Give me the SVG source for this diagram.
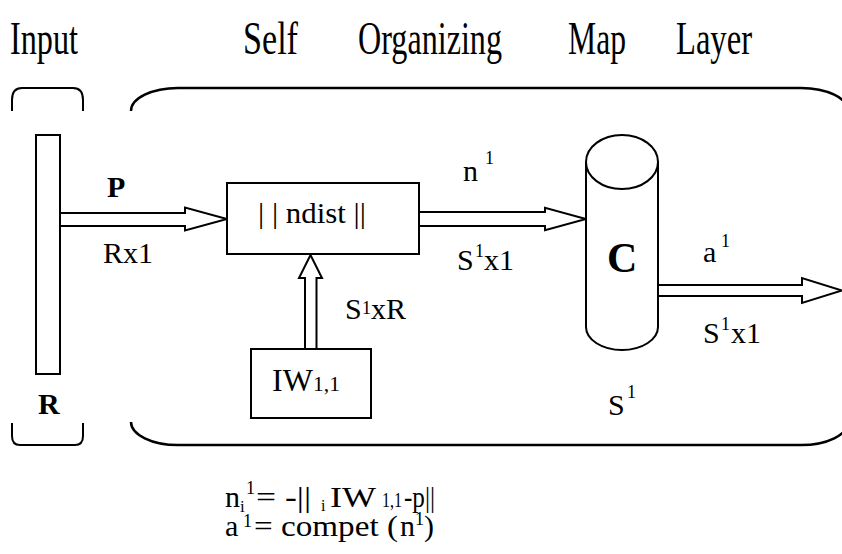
<svg xmlns="http://www.w3.org/2000/svg" width="842" height="554" viewBox="0 0 842 554">
  <style>
    .ln { fill: none; stroke: #000; stroke-width: 2; }
    .frame { fill: none; stroke: #000; stroke-width: 2.5; }
    .box { fill: #fff; stroke: #000; stroke-width: 2; }
    .arr { fill: #fff; stroke: #000; stroke-width: 2; stroke-linejoin: miter; }
    text { font-family: "Liberation Serif", "Times New Roman", serif; fill: #000; }
    .t { font-size: 30px; }
    .b { font-weight: bold; }
    .sup { font-size: 18px; }
    .title { font-size: 46px; }
  </style>

  <!-- heading -->
  <g id="heading">
    <text class="title" x="10" y="54" textLength="68" lengthAdjust="spacingAndGlyphs">Input</text>
    <text class="title" x="243" y="54" textLength="55" lengthAdjust="spacingAndGlyphs">Self</text>
    <text class="title" x="358" y="54" textLength="144" lengthAdjust="spacingAndGlyphs">Organizing</text>
    <text class="title" x="568" y="54" textLength="58" lengthAdjust="spacingAndGlyphs">Map</text>
    <text class="title" x="676" y="54" textLength="76" lengthAdjust="spacingAndGlyphs">Layer</text>
  </g>

  <!-- input bracket: top and bottom caps only -->
  <g id="input-bracket">
    <path class="ln" d="M12,111 V100 Q12,88 22,88 H73 Q83,88 83,100 V111"/>
    <path class="ln" d="M12,423 V436 Q12,445 20,445 H75 Q83,445 83,436 V423"/>
  </g>

  <!-- layer frame: open on the left side -->
  <g id="layer-frame">
    <path class="frame" d="M131,111 A47,23 0 0 1 178,88 H801 A47,23 0 0 1 848,111 V422 A47,23 0 0 1 801,445 H178 A47,23 0 0 1 131,422"/>
  </g>

  <!-- input vector -->
  <g id="input">
    <rect class="box" x="36" y="135" width="24" height="239"/>
    <text class="t b" x="38" y="414">R</text>
  </g>

  <!-- connectors -->
  <g id="connectors">
    <polygon class="arr" points="60,213 185,213 185,207.5 227,219 185,230.5 185,226 60,226"/>
    <polygon class="arr" points="419,212 545,212 545,207.7 586,219 545,230.3 545,226 419,226"/>
    <polygon class="arr" points="305,349 305,278 299,278 310.5,255 322,278 316.5,278 316.5,349"/>
    <polygon class="arr" points="658,285 802,285 802,278 842,290.5 802,303 802,296 658,296"/>
  </g>

  <!-- distance node -->
  <g id="ndist">
    <rect class="box" x="227" y="183" width="192" height="71"/>
    <text class="t" x="258" y="223" textLength="108" lengthAdjust="spacingAndGlyphs">| | ndist ||</text>
  </g>

  <!-- weight matrix -->
  <g id="weights">
    <rect class="box" x="251" y="349" width="120" height="69"/>
    <text x="272" y="391" font-size="32">IW</text>
    <text x="313" y="391" font-size="21" textLength="27" lengthAdjust="spacingAndGlyphs">1,1</text>
  </g>

  <!-- competitive transfer -->
  <g id="compet">
    <path class="box" d="M586,162 V327 A36,23 0 0 0 658,327 V162 Z"/>
    <ellipse class="box" cx="622" cy="162" rx="36" ry="27"/>
    <text x="607" y="272" font-size="42" font-weight="bold">C</text>
  </g>

  <!-- labels -->
  <g id="labels">
    <text class="t b" x="107" y="197" font-size="28">P</text>
    <text class="t" x="103" y="263">Rx1</text>

    <text class="t" x="463" y="181">n</text>
    <text class="sup" x="485" y="164">1</text>

    <text class="t" x="457" y="270">S</text>
    <text class="sup" x="475" y="257">1</text>
    <text class="t" x="484" y="270">x1</text>

    <text class="t" x="345" y="319">S</text>
    <text class="sup" x="362" y="314">1</text>
    <text class="t" x="371" y="319">xR</text>

    <text class="t" x="703" y="262">a</text>
    <text class="sup" x="721" y="247" font-size="20">1</text>

    <text class="t" x="703" y="343">S</text>
    <text class="sup" x="721" y="330">1</text>
    <text class="t" x="731" y="343">x1</text>

    <text class="t" x="608" y="415">S</text>
    <text class="sup" x="627" y="398" font-size="20">1</text>
  </g>

  <!-- transfer equations -->
  <g id="equations">
    <text class="t" x="225" y="507">n</text>
    <text x="240" y="512" font-size="17">i</text>
    <text x="246" y="494" font-size="18">1</text>
    <text class="t" x="256" y="507" textLength="55" lengthAdjust="spacingAndGlyphs">= -||</text>
    <text x="321" y="511" font-size="16">i</text>
    <text class="t" x="330" y="507" textLength="46" lengthAdjust="spacingAndGlyphs">IW</text>
    <text x="382" y="507" font-size="20" textLength="20" lengthAdjust="spacingAndGlyphs">1,1</text>
    <text class="t" x="404" y="507" textLength="31" lengthAdjust="spacingAndGlyphs">-p||</text>

    <text class="t" x="225" y="536">a</text>
    <text x="243" y="527" font-size="18">1</text>
    <text class="t" x="254" y="536" textLength="144" lengthAdjust="spacingAndGlyphs">= compet (</text>
    <text class="t" x="400" y="536">n</text>
    <text x="415" y="525" font-size="18">1</text>
    <text class="t" x="424" y="536">)</text>
  </g>
</svg>
